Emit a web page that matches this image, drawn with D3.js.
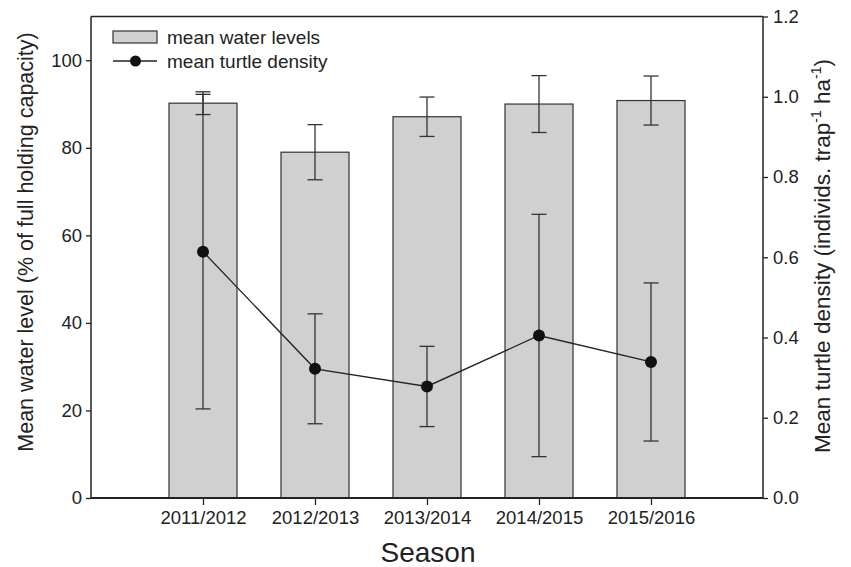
<!DOCTYPE html>
<html><head><meta charset="utf-8">
<script src="https://cdn.jsdelivr.net/npm/d3@7"></script>
<style>body{margin:0;background:#fff}svg{display:block;font-family:Arial,"Liberation Sans",sans-serif}</style>
</head><body>
<svg id="chart" width="851" height="567"></svg>
<script>
const seasons = ["2011/2012","2012/2013","2013/2014","2014/2015","2015/2016"];
const waterMean = [90.2, 79.0, 87.1, 90.0, 90.8];
const waterErr  = [2.6, 6.3, 4.5, 6.5, 5.6];
const turtleMean = [0.614, 0.322, 0.278, 0.405, 0.339];
const turtleErr  = [0.392, 0.137, 0.1, 0.302, 0.197];
const leftTicks = [0,20,40,60,80,100];
const rightTicks = [0,0.2,0.4,0.6,0.8,1.0,1.2];

const svg = d3.select("#chart");
const L = 91, R = 763, T = 16.5, B = 498;
const x = d3.scalePoint().domain(seasons).range([L,R]).padding(1);
const yL = d3.scaleLinear().domain([0,110]).range([B,T]);
const yR = d3.scaleLinear().domain([0,1.2]).range([B,T]);
const barW = 68, capW = 15;
const dark = "#222";

// bars
svg.append("g").selectAll("rect").data(seasons).join("rect")
  .attr("x", d => x(d) - barW/2).attr("width", barW)
  .attr("y", (d,i) => yL(waterMean[i])).attr("height", (d,i) => B - yL(waterMean[i]))
  .attr("fill", "#d0d0d0").attr("stroke", "#333").attr("stroke-width", 1.2);

function errBars(g, means, errs, ys) {
  seasons.forEach((s,i) => {
    const cx = x(s), lo = ys(means[i]-errs[i]), hi = ys(means[i]+errs[i]);
    g.append("line").attr("x1",cx).attr("x2",cx).attr("y1",lo).attr("y2",hi);
    g.append("line").attr("x1",cx-capW/2).attr("x2",cx+capW/2).attr("y1",lo).attr("y2",lo);
    g.append("line").attr("x1",cx-capW/2).attr("x2",cx+capW/2).attr("y1",hi).attr("y2",hi);
  });
}
errBars(svg.append("g").attr("stroke","#333").attr("stroke-width",1.3), waterMean, waterErr, yL);
errBars(svg.append("g").attr("stroke","#333").attr("stroke-width",1.3), turtleMean, turtleErr, yR);

// turtle line
svg.append("path").datum(seasons)
  .attr("d", d3.line().x(d => x(d)).y((d,i) => yR(turtleMean[i])))
  .attr("fill","none").attr("stroke",dark).attr("stroke-width",1.3);
svg.append("g").selectAll("circle").data(seasons).join("circle")
  .attr("cx", d => x(d)).attr("cy", (d,i) => yR(turtleMean[i])).attr("r", 6).attr("fill", "#111");

// frame top
svg.append("line").attr("x1",L).attr("x2",R).attr("y1",T).attr("y2",T).attr("stroke",dark).attr("stroke-width",1.3);

// axes
const axL = svg.append("g").attr("transform",`translate(${L},0)`)
  .call(d3.axisLeft(yL).tickValues(leftTicks).tickSize(5).tickPadding(4).tickFormat(d3.format("d")));
const axR = svg.append("g").attr("transform",`translate(${R},0)`)
  .call(d3.axisRight(yR).tickValues(rightTicks).tickSize(5).tickPadding(5).tickFormat(d3.format(".1f")));
const axB = svg.append("g").attr("transform",`translate(0,${B})`)
  .call(d3.axisBottom(x).tickSize(7).tickPadding(6));
[axL,axR,axB].forEach(a => {
  a.select(".domain").remove();
  a.selectAll(".tick line").attr("stroke",dark).attr("stroke-width",1.3);
  a.selectAll("text").attr("fill","#222").style("font-size","18.5px").style("font-family","Arial, 'Liberation Sans', sans-serif");
});
svg.append("line").attr("x1",L).attr("x2",L).attr("y1",T).attr("y2",B).attr("stroke",dark).attr("stroke-width",1.5);
svg.append("line").attr("x1",R).attr("x2",R).attr("y1",T).attr("y2",B).attr("stroke",dark).attr("stroke-width",1.5);
svg.append("line").attr("x1",L).attr("x2",R).attr("y1",B).attr("y2",B).attr("stroke",dark).attr("stroke-width",2.2);

// titles
svg.append("text").attr("x",428).attr("y",562).attr("text-anchor","middle")
  .style("font-size","28px").attr("fill","#222").text("Season");
svg.append("text").attr("transform","translate(33,242) rotate(-90)").attr("text-anchor","middle")
  .style("font-size","21.5px").attr("fill","#222").text("Mean water level (% of full holding capacity)");
const rt = svg.append("text").attr("transform","translate(830,256) rotate(-90)").attr("text-anchor","middle")
  .style("font-size","22.5px").attr("fill","#222");
rt.append("tspan").text("Mean turtle density (individs. trap");
rt.append("tspan").attr("dy",-9).style("font-size","14px").text("-1");
rt.append("tspan").attr("dy",9).text(" ha");
rt.append("tspan").attr("dy",-9).style("font-size","14px").text("-1");
rt.append("tspan").attr("dy",9).text(")");

// legend
const lg = svg.append("g");
lg.append("rect").attr("x",113).attr("y",31).attr("width",44).attr("height",12)
  .attr("fill","#d0d0d0").attr("stroke","#333").attr("stroke-width",1.2);
lg.append("line").attr("x1",113).attr("x2",157).attr("y1",61).attr("y2",61).attr("stroke",dark).attr("stroke-width",1.3);
lg.append("circle").attr("cx",135.5).attr("cy",61).attr("r",5.5).attr("fill","#111");
lg.append("text").attr("x",167).attr("y",44).style("font-size","19px").attr("fill","#222").text("mean water levels");
lg.append("text").attr("x",167).attr("y",68).style("font-size","19px").attr("fill","#222").text("mean turtle density");
</script>
</body></html>
